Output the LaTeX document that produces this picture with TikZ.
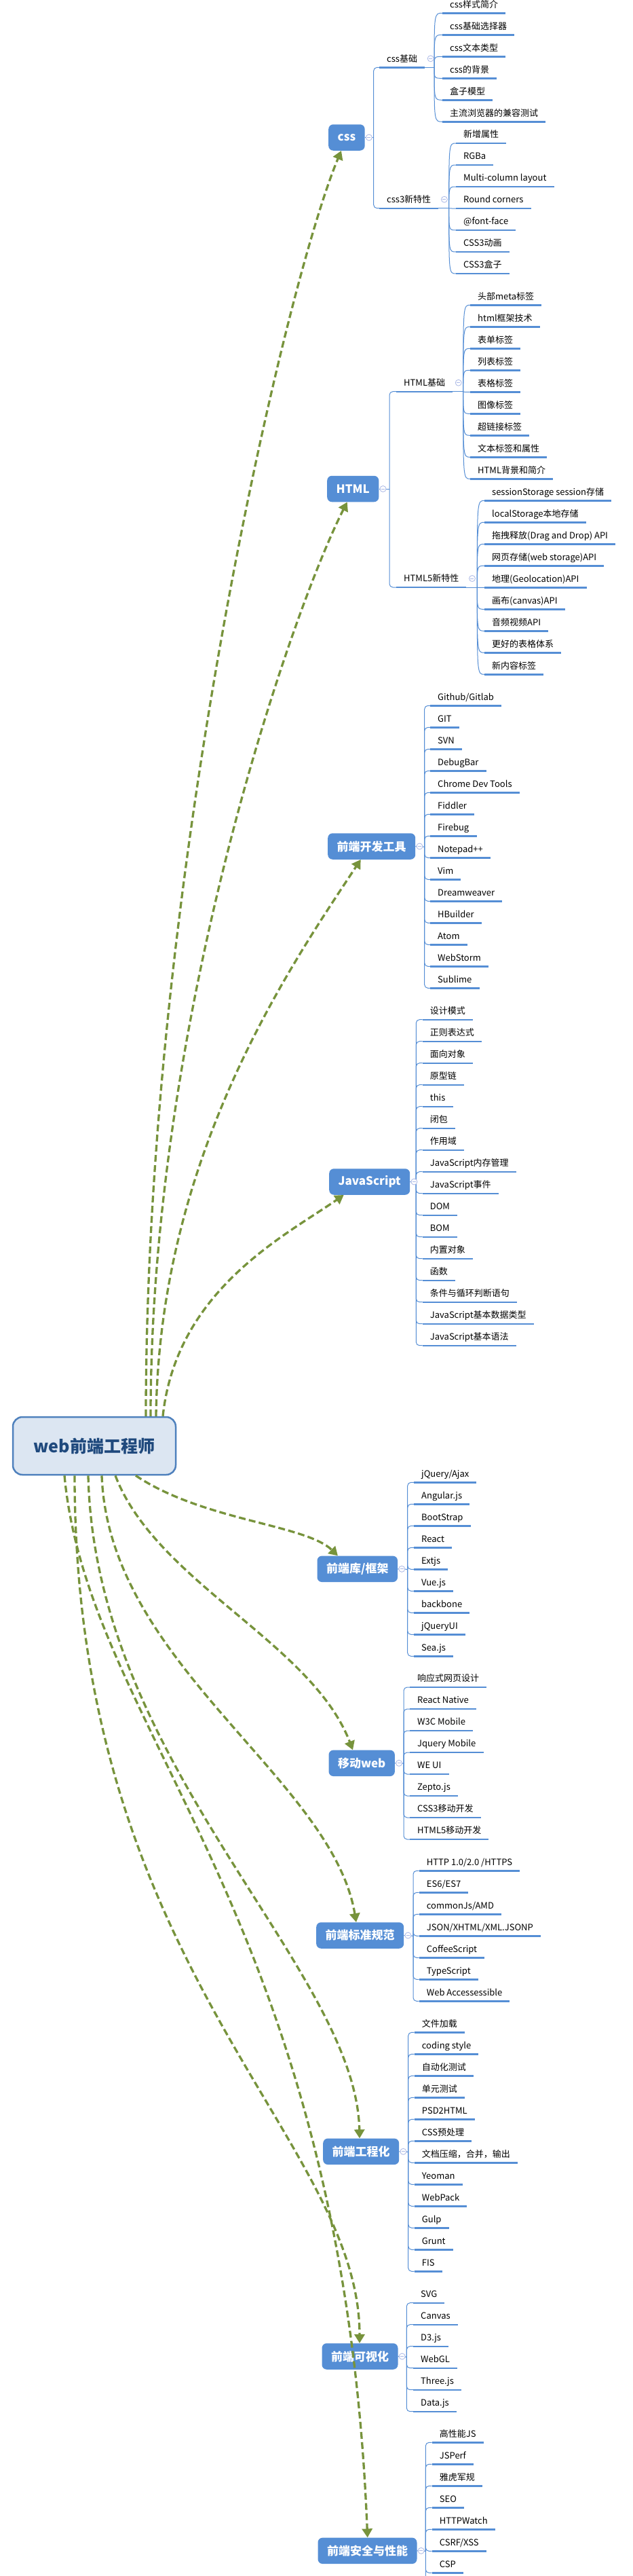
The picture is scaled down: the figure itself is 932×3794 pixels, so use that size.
\documentclass[tikz,border=0pt]{standalone}
\usepackage{fontspec}
\setmainfont{Noto Sans CJK SC}
\usetikzlibrary{arrows.meta,calc}
\definecolor{nodeblue}{RGB}{85,142,213}
\definecolor{relgreen}{RGB}{119,147,60}
\definecolor{colc}{RGB}{170,184,230}
\definecolor{cfill}{RGB}{220,230,242}
\definecolor{cborder}{RGB}{79,129,189}
\definecolor{ctext}{RGB}{31,73,125}
\newcommand\collapse[1]{\draw[colc,fill=white,line width=0.8pt] (#1) circle (4.5pt);
  \draw[colc,line width=0.8pt] ($(#1)+(-2.5,0)$) -- ($(#1)+(2.5,0)$);}
% elbow leaves: prefix, junction, ulstart x, first y, list
\newcommand\elbowleaves[5]{%
  \foreach \t [count=\i] in {#5} {
    \node[leaf] (#1\i) at (#3,#4+32*\i-32) {\t};
    \draw[uline] (#1\i.south west) -- (#1\i.south east);
    \draw[brk,rounded corners=5pt] (#2) |- (#1\i.south west);
  }}
% fan leaves
\newcommand\fanleaves[5]{%
  \foreach \t [count=\i] in {#5} {
    \node[leaf] (#1\i) at (#3,#4+32*\i-32) {\t};
    \draw[uline] (#1\i.south west) -- (#1\i.south east);
    \draw[brk] (#2) .. controls (#2 |- #1\i.south west) .. (#1\i.south west);
  }}
\begin{document}
\begin{tikzpicture}[x=1pt,y=-1pt,
  leaf/.style={anchor=south west,inner xsep=11pt,inner ysep=0pt,text height=10pt,text depth=8pt,font=\fontsize{13}{15}\selectfont,text=black},
  uline/.style={draw=nodeblue,line width=2.4pt},
  brk/.style={draw=nodeblue,line width=1pt},
  bnode/.style={anchor=west,fill=nodeblue,rounded corners=7pt,text=white,font=\bfseries\fontsize{17}{20}\selectfont,minimum height=38.5pt,inner xsep=13.5pt,inner ysep=0pt},
  cnode/.style={fill=cfill,draw=cborder,line width=2.5pt,rounded corners=14pt,minimum width=240pt,minimum height=85pt,font=\bfseries\fontsize{25}{30}\selectfont,text=ctext},
  rel/.style={draw=relgreen,line width=3.3pt,dash pattern=on 10pt off 5pt,-{Triangle[width=15pt,length=13pt]}},
]
\useasboundingbox (0,0) rectangle (932,3794);
\fill[white] (0,0) rectangle (932,3794);
\clip (0,0) rectangle (932,3794);

% ---------- centre
\node[cnode] (root) at (139,2129.5) {web前端工程师};

% ---------- css
\node[bnode] (css) at (484,202.5) {css};
\coordinate (cssJ) at (550.7,202.5);
\draw[brk] (css.east) -- (cssJ);
\node[leaf] (cb) at (559,99.3) {css基础};
\node[leaf] (c3) at (559,306.7) {css3新特性};
\foreach \n in {cb,c3} {
  \draw[uline] (\n.south west) -- (\n.south east);
  \draw[brk,rounded corners=5pt] (cssJ) |- (\n.south west);
}
\coordinate (cbJ) at (640,99.3);
\coordinate (c3J) at (661.7,306.7);
\draw[brk] (cb.south east) -- (cbJ);
\draw[brk] (c3.south east) -- (c3J);
\fanleaves{cbl}{cbJ}{652}{19.3}{css样式简介,css基础选择器,css文本类型,css的背景,盒子模型,主流浏览器的兼容测试}
\fanleaves{c3l}{c3J}{672}{211}{新增属性,RGBa,Multi-column layout,Round corners,@font-face,CSS3动画,CSS3盒子}
\collapse{$(cb.south east)+(8.5,-13)$}
\collapse{$(c3.south east)+(8.5,-13)$}
\collapse{$(css.east)+(6,0)$}

% ---------- HTML
\node[bnode] (html) at (482,720) {HTML};
\coordinate (htmlJ) at (574,720);
\draw[brk] (html.east) -- (htmlJ);
\node[leaf] (hb) at (584,576.7) {HTML基础};
\node[leaf] (h5) at (584,865) {HTML5新特性};
\foreach \n in {hb,h5} {
  \draw[uline] (\n.south west) -- (\n.south east);
  \draw[brk,rounded corners=5pt] (htmlJ) |- (\n.south west);
}
\coordinate (hbJ) at (682.7,576.7);
\coordinate (h5J) at (703.3,865);
\draw[brk] (hb.south east) -- (hbJ);
\draw[brk] (h5.south east) -- (h5J);
\fanleaves{hbl}{hbJ}{693}{449.3}{头部meta标签,html框架技术,表单标签,列表标签,表格标签,图像标签,超链接标签,文本标签和属性,HTML背景和简介}
\fanleaves{h5l}{h5J}{714}{737.3}{sessionStorage session存储,localStorage本地存储,{拖拽释放(Drag and Drop) API},{网页存储(web storage)API},{地理(Geolocation)API},{画布(canvas)API},音频视频API,更好的表格体系,新内容标签}
\collapse{$(hb.south east)+(8.5,-13)$}
\collapse{$(h5.south east)+(8.5,-13)$}
\collapse{$(html.east)+(6,0)$}

% ---------- tools
\node[bnode] (tools) at (483,1246.5) {前端开发工具};
\coordinate (toolsJ) at (625.7,1247.3);
\draw[brk] (tools.east) -- (toolsJ);
\elbowleaves{tl}{toolsJ}{634}{1039.3}{Github/Gitlab,GIT,SVN,DebugBar,Chrome Dev Tools,Fiddler,Firebug,Notepad++,Vim,Dreamweaver,HBuilder,Atom,WebStorm,Sublime}
\collapse{$(tools.east)+(6,0)$}

% ---------- JavaScript
\node[bnode] (js) at (485,1740.5) {JavaScript};
\coordinate (jsJ) at (613.3,1741.5);
\draw[brk] (js.east) -- (jsJ);
\elbowleaves{jl}{jsJ}{622.7}{1501.7}{设计模式,正则表达式,面向对象,原型链,this,闭包,作用域,JavaScript内存管理,JavaScript事件,DOM,BOM,内置对象,函数,条件与循环判断语句,JavaScript基本数据类型,JavaScript基本语法}
\collapse{$(js.east)+(6,0)$}

% ---------- libs
\node[bnode] (lib) at (467.3,2310.8) {前端库/框架};
\coordinate (libJ) at (600.7,2311.3);
\draw[brk] (lib.east) -- (libJ);
\elbowleaves{ll}{libJ}{610}{2183.3}{jQuery/Ajax,Angular.js,BootStrap,React,Extjs,Vue.js,backbone,jQueryUI,Sea.js}
\collapse{$(lib.east)+(6,0)$}

% ---------- mobile
\node[bnode] (mob) at (484.3,2596.8) {移动web};
\coordinate (mobJ) at (595,2597.2);
\draw[brk] (mob.east) -- (mobJ);
\elbowleaves{ml}{mobJ}{604}{2485}{响应式网页设计,React Native,W3C Mobile,Jquery Mobile,WE UI,Zepto.js,CSS3移动开发,HTML5移动开发}
\collapse{$(mob.east)+(6,0)$}

% ---------- standards
\node[bnode] (std) at (466,2850.5) {前端标准规范};
\coordinate (stdJ) at (609,2851.3);
\draw[brk] (std.east) -- (stdJ);
\elbowleaves{sl}{stdJ}{617.7}{2755.3}{HTTP 1.0/2.0 /HTTPS,ES6/ES7,commonJs/AMD,JSON/XHTML/XML.JSONP,CoffeeScript,TypeScript,Web Accessessible}
\collapse{$(std.east)+(6,0)$}

% ---------- engineering
\node[bnode] (eng) at (476,3168.8) {前端工程化};
\coordinate (engJ) at (601.7,3169.3);
\draw[brk] (eng.east) -- (engJ);
\elbowleaves{el}{engJ}{610.7}{2993.3}{文件加载,coding style,自动化测试,单元测试,PSD2HTML,CSS预处理,文档压缩，合并，输出,Yeoman,WebPack,Gulp,Grunt,FIS}
\collapse{$(eng.east)+(6,0)$}

% ---------- visualisation
\node[bnode] (vis) at (474.3,3470.5) {前端可视化};
\coordinate (visJ) at (599.3,3471.5);
\draw[brk] (vis.east) -- (visJ);
\elbowleaves{vl}{visJ}{609}{3391.7}{SVG,Canvas,D3.js,WebGL,Three.js,Data.js}
\collapse{$(vis.east)+(6,0)$}

% ---------- security
\node[bnode] (sec) at (468.3,3756.8) {前端安全与性能};
\coordinate (secJ) at (627.3,3757.3);
\draw[brk] (sec.east) -- (secJ);
\draw[brk] (secJ) -- ++(0,80);
\elbowleaves{xl}{secJ}{636.7}{3597.3}{高性能JS,JSPerf,雅虎军规,SEO,HTTPWatch,CSRF/XSS,CSP}
\collapse{$(sec.east)+(6,0)$}

% ---------- relationships
\draw[rel] (root.north -| 215,0) .. controls (215,1300) and (420,420) .. (css.south -| 503,0);
\draw[rel] (root.north -| 222,0) .. controls (222,1500) and (430,900) .. (html.south -| 511.7,0);
\draw[rel] (root.north -| 230,0) .. controls (235,1700) and (430,1420) .. (tools.south -| 531.7,0);
\draw[rel] (root.north -| 240,0) .. controls (260,1900) and (420,1820) .. (js.south -| 506.7,0);
\draw[rel] (root.south -| 200,0) .. controls (300,2240) and (450,2245) .. (lib.north -| 498,0);
\draw[rel] (root.south -| 170,0) .. controls (230,2330) and (460,2420) .. (mob.north -| 520,0);
\draw[rel] (root.south -| 150,0) .. controls (160,2450) and (490,2620) .. (std.north -| 525,0);
\draw[rel] (root.south -| 130,0) .. controls (140,2600) and (525,2900) .. (eng.north -| 530,0);
\draw[rel] (root.south -| 110,0) .. controls (110,2900) and (530,3150) .. (vis.north -| 530,0);
\draw[rel] (root.south -| 95,0) .. controls (130,2550) and (505,2820) .. (sec.north -| 541.7,0);
\end{tikzpicture}
\end{document}
